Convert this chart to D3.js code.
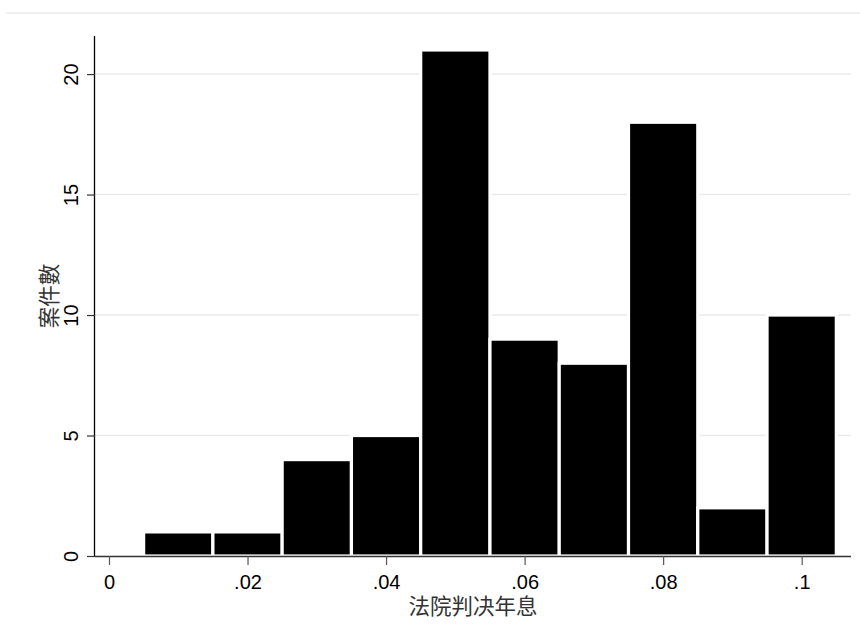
<!DOCTYPE html>
<html>
<head>
<meta charset="utf-8">
<script src="https://cdn.jsdelivr.net/npm/d3@7"></script>
<style>
  html, body { margin: 0; padding: 0; background: #fff; }
  svg { display: block; }
</style>
</head>
<body>
<svg id="chart" width="860" height="635"></svg>
<script>
// Histogram of court-awarded annual interest rates (bin width .01)
const binLower = [0.005, 0.015, 0.025, 0.035, 0.045, 0.055, 0.065, 0.075, 0.085, 0.095];
const binUpper = [0.015, 0.025, 0.035, 0.045, 0.055, 0.065, 0.075, 0.085, 0.095, 0.105];
const counts   = [1, 1, 4, 5, 21, 9, 8, 18, 2, 10];
const xTicks = [0, 0.02, 0.04, 0.06, 0.08, 0.1];
const xTickLabels = ["0", ".02", ".04", ".06", ".08", ".1"];
const yTicks = [0, 5, 10, 15, 20];
const yGrid = [5, 10, 15, 20];
const xTitle = "法院判决年息";
const yTitle = "案件數";

const svg = d3.select("#chart");
const plotLeft = 95, plotRight = 851, plotBottom = 556, plotTop = 36;

const x = d3.scaleLinear().domain([-0.00202, 0.10712]).range([plotLeft, plotRight]);
const y = d3.scaleLinear().domain([0, 21.58]).range([plotBottom, plotTop]);

const latin = "'Liberation Sans', Arial, Helvetica, sans-serif";
const cjk = "'Noto Sans CJK TC', 'Noto Sans CJK SC', sans-serif";

// outer frame line
svg.append("line")
  .attr("x1", 6).attr("x2", 860).attr("y1", 13).attr("y2", 13)
  .attr("stroke", "#ebebeb").attr("stroke-width", 1.5);

// horizontal grid
svg.append("g").selectAll("line").data(yGrid).join("line")
  .attr("x1", plotLeft).attr("x2", plotRight)
  .attr("y1", d => y(d)).attr("y2", d => y(d))
  .attr("stroke", "#eaeaea").attr("stroke-width", 1.5);

// bars
const bins = counts.map((c, i) => ({lo: binLower[i], hi: binUpper[i], c}));
svg.append("g").selectAll("rect").data(bins).join("rect")
  .attr("x", d => x(d.lo))
  .attr("width", d => x(d.hi) - x(d.lo))
  .attr("y", d => y(d.c))
  .attr("height", d => y(0) - y(d.c))
  .attr("fill", "#000")
  .attr("stroke", "#fff")
  .attr("stroke-width", 3.2);

// y axis
const yAxis = d3.axisLeft(y).tickValues(yTicks).tickSize(8).tickFormat(d3.format("d"));
const gy = svg.append("g").attr("transform", `translate(${plotLeft},0)`).call(yAxis);
gy.select(".domain").attr("d", `M-0.5,${plotTop}V${plotBottom}`).attr("stroke", "#000").attr("stroke-width", 1.3);
gy.selectAll(".tick line").attr("stroke", "#333").attr("stroke-width", 1.2);
gy.selectAll(".tick text")
  .attr("font-family", latin).attr("font-size", 20).attr("fill", "#000")
  .attr("x", null).attr("dy", null)
  .attr("text-anchor", "middle")
  .attr("transform", "translate(-17,0) rotate(-90)");

// x axis
const xAxis = d3.axisBottom(x).tickValues(xTicks).tickSize(9)
  .tickFormat((d, i) => xTickLabels[i]);
const gx = svg.append("g").attr("transform", `translate(0,${plotBottom})`).call(xAxis);
gx.select(".domain").attr("d", `M${plotLeft},0.5H${plotRight}`).attr("stroke", "#333").attr("stroke-width", 1.3);
gx.selectAll(".tick line").attr("stroke", "#555").attr("stroke-width", 1.2);
gx.selectAll(".tick text")
  .attr("font-family", latin).attr("font-size", 20).attr("fill", "#000")
  .attr("y", 33).attr("dy", null);

// axis titles
svg.append("text")
  .attr("x", (plotLeft + plotRight) / 2).attr("y", 604.5)
  .attr("text-anchor", "middle").attr("dominant-baseline", "central")
  .attr("font-family", cjk).attr("font-size", 21.5).attr("fill", "#333")
  .text(xTitle);

svg.append("text")
  .attr("transform", `translate(47,${(plotTop + plotBottom) / 2}) rotate(-90)`)
  .attr("text-anchor", "middle").attr("dominant-baseline", "central")
  .attr("font-family", cjk).attr("font-size", 21.5).attr("fill", "#333")
  .text(yTitle);
</script>
</body>
</html>
